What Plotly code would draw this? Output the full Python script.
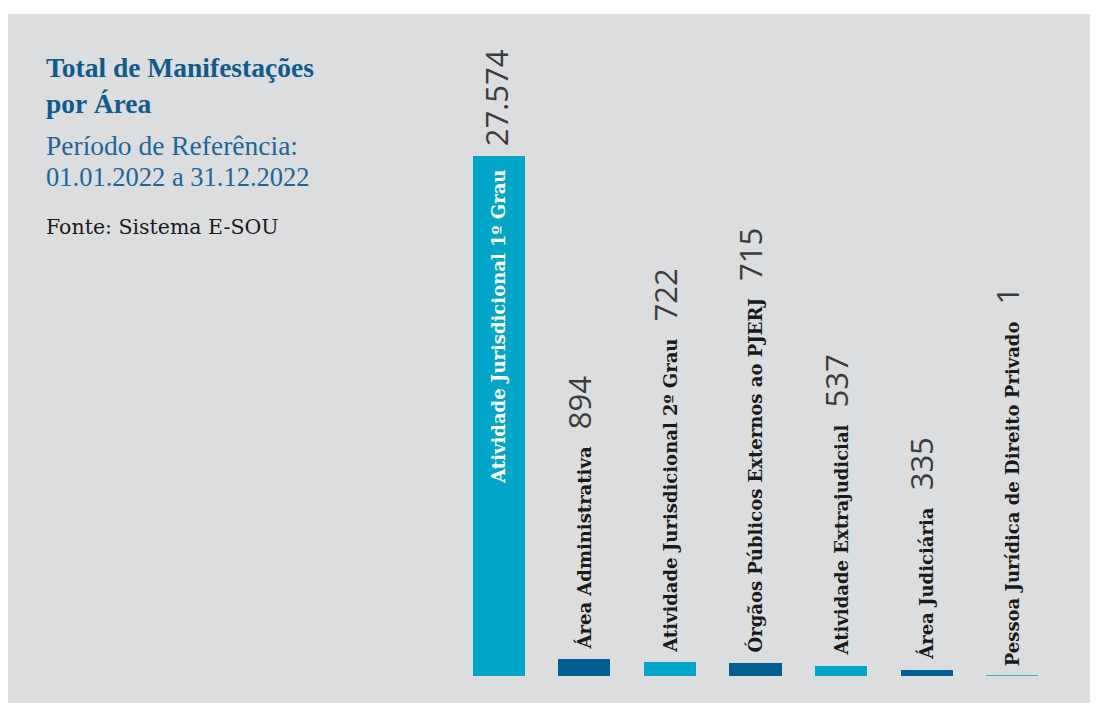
import plotly.graph_objects as go

# ---- data ----
categories = [
    "Atividade Jurisdicional 1º Grau",
    "Área Administrativa",
    "Atividade Jurisdicional 2º Grau",
    "Órgãos Públicos Externos ao PJERJ",
    "Atividade Extrajudicial",
    "Área Judiciária",
    "Pessoa Jurídica de Direito Privado",
]
values = [27574, 894, 722, 715, 537, 335, 1]
value_labels = ["27.574", "894", "722", "715", "537", "335", "1"]

# ---- style ----
CYAN = "#00a5c8"
DARK = "#005e90"
bar_colors = [CYAN, DARK, CYAN, DARK, CYAN, DARK, "#3aa6cc"]
PANEL = "#dcdddf"
TITLE_BLUE = "#105b8d"
SUB_BLUE = "#1c6699"
NUM_COLOR = "#3c3c3c"
LABEL_COLOR = "#1a1a1a"

W, H = 1099, 709
L, R, T, B = 456, 44, 30, 33
PW, PH = W - L - R, H - T - B
YMAX = 27574 * PH / 520.0


def px(x):
    return (x - L) / PW


def py(y):
    return (H - B - y) / PH


xs = list(range(len(categories)))

fig = go.Figure()
fig.add_trace(go.Bar(
    x=xs, y=values, width=0.61,
    marker=dict(color=bar_colors, line=dict(width=0)),
    hoverinfo="skip",
))

# background panel
fig.add_shape(type="rect", xref="paper", yref="paper",
              x0=px(8), x1=px(1090), y0=py(703), y1=py(14),
              fillcolor=PANEL, line=dict(width=0), layer="below")

ann = []
num_span = "<span style=\"font-family:'Open Sans';font-size:31px;color:%s\">%s</span>"
for i, (c, v, lab) in enumerate(zip(categories, values, value_labels)):
    if i == 0:
        ann.append(dict(x=i, y=v, xref="x", yref="y", text="<b>%s</b>" % c,
                        textangle=-90, showarrow=False, xanchor="center",
                        yanchor="top", yshift=-12, xshift=-1,
                        font=dict(family="DejaVu Serif", size=18, color="white")))
        ann.append(dict(x=i, y=v, xref="x", yref="y", text=lab,
                        textangle=-90, showarrow=False, xanchor="center",
                        yanchor="bottom", yshift=8, xshift=-3,
                        font=dict(family="Open Sans", size=31, color=NUM_COLOR)))
    else:
        txt = "<b>%s</b>&nbsp;&nbsp;&nbsp;" % c + num_span % (NUM_COLOR, lab)
        ann.append(dict(x=i, y=v, xref="x", yref="y", text=txt,
                        textangle=-90, showarrow=False, xanchor="center",
                        yanchor="bottom", yshift=8, xshift=-5,
                        font=dict(family="DejaVu Serif", size=18, color=LABEL_COLOR)))

# left-side texts
ann.append(dict(x=px(44), y=py(50), xref="paper", yref="paper",
                text="<b>Total de Manifestações<br>por Área</b>", align="left",
                xanchor="left", yanchor="top", showarrow=False,
                font=dict(family="Liberation Serif", size=27.5, color=TITLE_BLUE)))
ann.append(dict(x=px(44), y=py(128), xref="paper", yref="paper",
                text="Período de Referência:", align="left",
                xanchor="left", yanchor="top", showarrow=False,
                font=dict(family="Liberation Serif", size=27.5, color=SUB_BLUE)))
ann.append(dict(x=px(44), y=py(160), xref="paper", yref="paper",
                text="01.01.2022 a 31.12.2022", align="left",
                xanchor="left", yanchor="top", showarrow=False,
                font=dict(family="Liberation Serif", size=26.5, color=SUB_BLUE)))
ann.append(dict(x=px(44), y=py(213), xref="paper", yref="paper",
                text="Fonte: Sistema E-SOU", align="left",
                xanchor="left", yanchor="top", showarrow=False,
                font=dict(family="DejaVu Serif", size=20.5, color=LABEL_COLOR)))

fig.update_layout(
    width=W, height=H,
    margin=dict(l=L, r=R, t=T, b=B, pad=0),
    paper_bgcolor="white", plot_bgcolor="rgba(0,0,0,0)",
    showlegend=False, annotations=ann, bargap=0,
    xaxis=dict(range=[-0.5, 6.5], showgrid=False, zeroline=False,
               showticklabels=False, showline=False, ticks="", fixedrange=True),
    yaxis=dict(range=[0, YMAX], showgrid=False, zeroline=False,
               showticklabels=False, showline=False, ticks="", fixedrange=True),
)

fig.write_html("out.html", config={"displayModeBar": False})
